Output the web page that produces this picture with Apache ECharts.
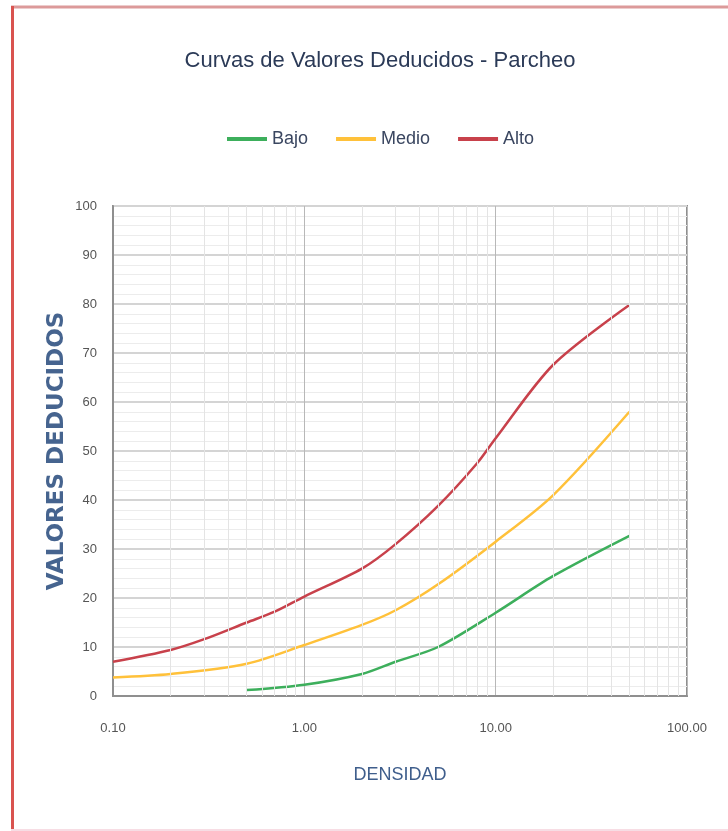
<!DOCTYPE html>
<html>
<head>
<meta charset="utf-8">
<script src="https://cdn.jsdelivr.net/npm/echarts@6/dist/echarts.min.js"></script>
<style>
html,body{margin:0;padding:0;background:#fff;}
#c{width:728px;height:831px;}
</style>
</head>
<body>
<div id="c"></div>
<script>
// Data
const bajoX = [0.5, 1, 2, 3, 5, 10, 20, 50];
const bajoY = [1.2, 2.3, 4.5, 7, 10, 17, 24.5, 32.7];
const medioX = [0.1, 0.2, 0.5, 1, 2, 3, 5, 10, 20, 50];
const medioY = [3.8, 4.5, 6.6, 10.4, 14.5, 17.5, 22.8, 31.5, 41, 58];
const altoX = [0.1, 0.2, 0.3, 0.5, 0.7, 1, 2, 3, 5, 8, 10, 20, 50];
const altoY = [7, 9.4, 11.6, 15, 17.2, 20.3, 26, 31, 38.8, 47.5, 52.6, 67.6, 79.8];
const minorX = [0.2,0.3,0.4,0.5,0.6,0.7,0.8,0.9,2,3,4,5,6,7,8,9,20,30,40,50,60,70,80,90];
const seriesNames = ['Bajo', 'Medio', 'Alto'];
const colors = ['#3DAF5C', '#FFC13A', '#C8414B'];

function pairs(xs, ys){ return xs.map((x,i)=>[x, ys[i]]); }

const font = '"Liberation Sans Narrow", "Liberation Sans", Arial, sans-serif';
const chart = echarts.init(document.getElementById('c'), null, {renderer:'canvas'});
chart.setOption({
  animation:false,
  backgroundColor:'#fff',
  title:{
    text:'Curvas de Valores Deducidos - Parcheo',
    left:375, top:45, textAlign:'center',
    textStyle:{fontFamily:font, fontSize:22, fontWeight:'normal', color:'#2B3A57'}
  },
  legend:{
    data:seriesNames,
    left:222, top:125,
    itemWidth:40, itemHeight:4, itemGap:28,
    icon:'rect',
    textStyle:{fontFamily:font, fontSize:18, color:'#3A4660'}
  },
  grid:{left:113, right:41, top:206, bottom:135, show:true, borderColor:'#8f8f8f', borderWidth:2},
  xAxis:{
    type:'log', logBase:10, min:0.1, max:100,
    name:'DENSIDAD', nameLocation:'middle', nameGap:70,
    nameTextStyle:{fontFamily:font, fontSize:18, color:'#3F5E8C'},
    axisLine:{show:true, lineStyle:{color:'#8f8f8f', width:2}},
    axisTick:{show:false},
    axisLabel:{margin:26, fontFamily:font, fontSize:13, color:'#555'},
    splitLine:{show:true, lineStyle:{color:'#b8b8b8', width:1}}
  },
  yAxis:{
    type:'value', min:0, max:100, interval:10,
    name:'VALORES DEDUCIDOS', nameLocation:'middle', nameGap:44, nameMoveOverlap:false,
    nameTextStyle:{fontFamily:'"DejaVu Sans", sans-serif', fontSize:23, fontWeight:'bold', color:'#46648F'},
    axisLine:{show:true, lineStyle:{color:'#8f8f8f', width:2}},
    axisTick:{show:false},
    axisLabel:{margin:16, fontFamily:font, fontSize:13, color:'#555'},
    splitLine:{show:true, lineStyle:{color:'#d4d4d4', width:2}},
    minorTick:{show:false, splitNumber:5},
    minorSplitLine:{show:true, lineStyle:{color:'#ececec', width:1}}
  },
  graphic:[
    {type:'line', shape:{x1:11, y1:7, x2:728, y2:7}, style:{stroke:'#dc9a9a', lineWidth:3}, z:100},
    {type:'line', shape:{x1:12.5, y1:6, x2:12.5, y2:831}, style:{stroke:'#d9534f', lineWidth:3}, z:100},
    {type:'line', shape:{x1:11, y1:830, x2:728, y2:830}, style:{stroke:'#f7dde4', lineWidth:2}, z:100}
  ],
  series:[
    {
      type:'line', data:[], silent:true, z:1,
      markLine:{
        silent:true, symbol:['none','none'], label:{show:false},
        lineStyle:{color:'#e4e4e4', width:1, type:'solid'},
        data:minorX.map(v=>({xAxis:v}))
      }
    },
    {name:seriesNames[0], type:'line', data:pairs(bajoX,bajoY), smooth:0.3, showSymbol:false, color:colors[0], lineStyle:{width:2.5}},
    {name:seriesNames[1], type:'line', data:pairs(medioX,medioY), smooth:0.3, showSymbol:false, color:colors[1], lineStyle:{width:2.5}},
    {name:seriesNames[2], type:'line', data:pairs(altoX,altoY), smooth:0.3, showSymbol:false, color:colors[2], lineStyle:{width:2.5}}
  ]
});
chart.setOption({xAxis:{axisLabel:{formatter:function(v){return Number(v).toFixed(2);}}}});
</script>
</body>
</html>
